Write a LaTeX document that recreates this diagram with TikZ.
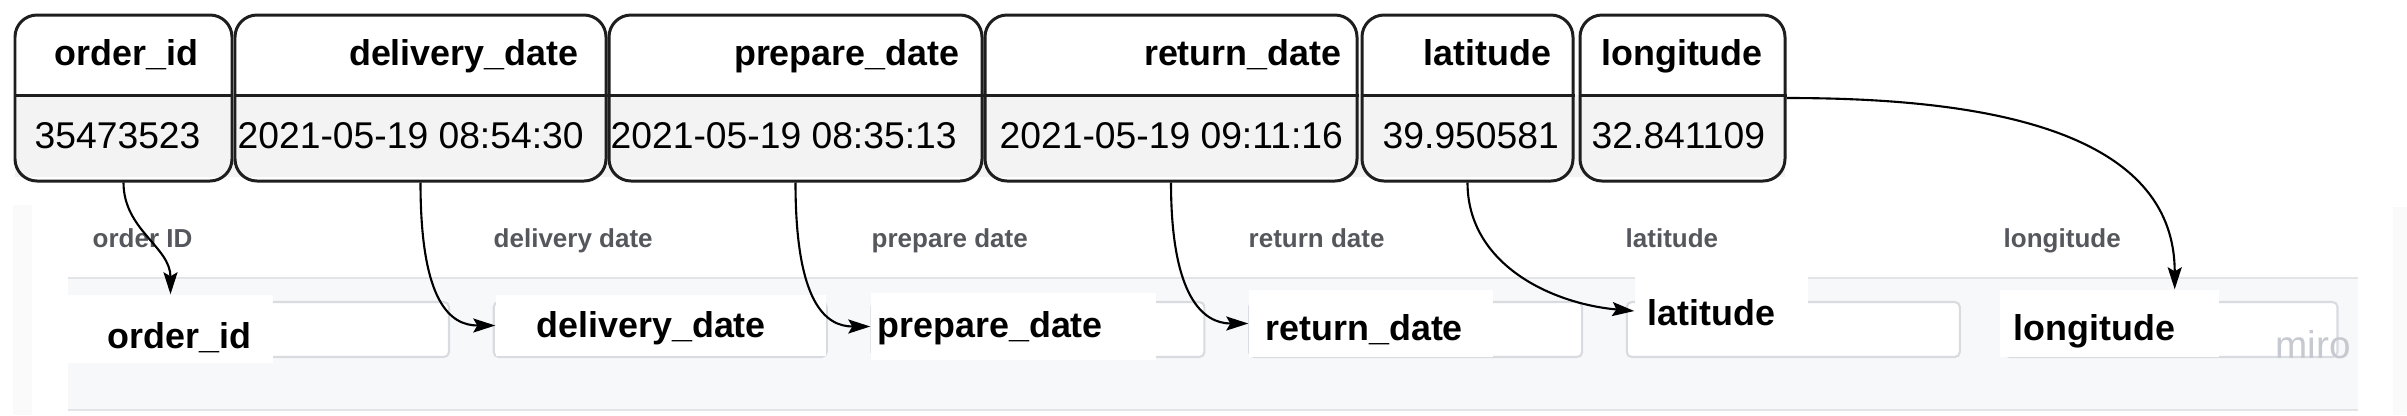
\documentclass[tikz,border=0pt]{standalone}
\usepackage{fontspec}
\setmainfont{Liberation Sans}
\usepackage{tikz}
\usetikzlibrary{arrows.meta,calc}
\usetikzlibrary{positioning,shapes}

\definecolor{valgray}{HTML}{F3F3F3}
\definecolor{boxline}{HTML}{1E1E1E}
\definecolor{panelbg}{HTML}{F7F8FA}
\definecolor{panelline}{HTML}{E2E4E8}
\definecolor{fieldline}{HTML}{D8DBE0}
\definecolor{labelgray}{HTML}{55575D}
\definecolor{miromark}{HTML}{C6C9CF}
\definecolor{stripgray}{HTML}{FAFAFB}

\tikzset{
    %Define style for the table columns
    colbox/.style={
        rectangle,
        rounded corners=0.22cm,
        draw=boxline, line width=0.85pt,
        minimum height=1.66cm,
        inner sep=0pt,
    },
    hdr/.style={
        inner sep=0pt,
        font=\fontsize{10.2}{12}\selectfont\bfseries,
    },
    val/.style={
        inner sep=0pt,
        font=\fontsize{10.6}{12}\selectfont,
    },
    colname/.style={
        inner sep=0pt,
        text=labelgray,
        font=\fontsize{7.4}{9}\selectfont\bfseries,
    },
    field/.style={
        rectangle,
        rounded corners=0.05cm,
        draw=fieldline, line width=0.6pt,
        fill=white,
        minimum width=3.33cm,
        minimum height=0.55cm,
    },
    whitebox/.style={
        rectangle,
        fill=white,
        inner sep=0pt,
    },
    fieldname/.style={
        inner sep=0pt,
        font=\fontsize{10.2}{12}\selectfont\bfseries,
    },
    conn/.style={
        ->,
        >={Stealth[length=2.2mm,width=1.4mm,inset=0.4mm]},
        line width=0.6pt,
    },
}

\begin{document}
\begin{tikzpicture}
    \useasboundingbox (0,0) rectangle (24.07,-4.15);

    % form panel in the background
    \fill[stripgray] (0.13,-2.05) rectangle (0.32,-4.15);
    \fill[stripgray] (23.93,-2.07) rectangle (24.07,-4.15);
    \fill[panelbg] (0.68,-2.78) rectangle (23.58,-4.10);
    \draw[panelline, line width=0.6pt] (0.68,-2.78) -- (23.58,-2.78);
    \draw[panelline, line width=0.6pt] (0.68,-4.10) -- (23.58,-4.10);

    % table
    \fill[valgray] (0.15,-0.95) rectangle (17.85,-1.77);
    \coordinate (div) at (0,-0.95);

    \node[colbox, minimum width=2.17cm] (c1) at (1.235,-0.98) {};
    \node[colbox, minimum width=3.71cm] (c2) at (4.205,-0.98) {};
    \node[colbox, minimum width=3.73cm] (c3) at (7.955,-0.98) {};
    \node[colbox, minimum width=3.72cm] (c4) at (11.71,-0.98) {};
    \node[colbox, minimum width=2.11cm] (c5) at (14.675,-0.98) {};
    \node[colbox, minimum width=2.05cm] (c6) at (16.825,-0.98) {};

    \draw[boxline, line width=0.85pt] (c1.west |- div) -- (c1.east |- div);
    \draw[boxline, line width=0.85pt] (c2.west |- div) -- (c2.east |- div);
    \draw[boxline, line width=0.85pt] (c3.west |- div) -- (c3.east |- div);
    \draw[boxline, line width=0.85pt] (c4.west |- div) -- (c4.east |- div);
    \draw[boxline, line width=0.85pt] (c5.west |- div) -- (c5.east |- div);
    \draw[boxline, line width=0.85pt] (c6.west |- div) -- (c6.east |- div);

    \node[hdr, anchor=base] (h1) at (1.265,-0.65) {order\_id};
    \node[hdr, anchor=base east] (h2) at (5.79,-0.65) {delivery\_date};
    \node[hdr, anchor=base east] (h3) at (9.60,-0.65) {prepare\_date};
    \node[hdr, anchor=base east] (h4) at (13.42,-0.65) {return\_date};
    \node[hdr, anchor=base east] (h5) at (15.52,-0.65) {latitude};
    \node[hdr, anchor=base] (h6) at (16.82,-0.65) {longitude};

    \node[val, anchor=base west] (v1) at (0.34,-1.48) {35473523};
    \node[val, anchor=base west] (v2) at (2.37,-1.48) {2021-05-19 08:54:30};
    \node[val, anchor=base west] (v3) at (6.10,-1.48) {2021-05-19 08:35:13};
    \node[val, anchor=base west] (v4) at (9.99,-1.48) {2021-05-19 09:11:16};
    \node[val, anchor=base west] (v5) at (13.82,-1.48) {39.950581};
    \node[val, anchor=base west] (v6) at (15.91,-1.48) {32.841109};

    % form labels
    \node[colname, anchor=base west] (l1) at (0.92,-2.47) {order ID};
    \node[colname, anchor=base west] (l2) at (4.93,-2.47) {delivery date};
    \node[colname, anchor=base west] (l3) at (8.71,-2.47) {prepare date};
    \node[colname, anchor=base west] (l4) at (12.48,-2.47) {return date};
    \node[colname, anchor=base west] (l5) at (16.25,-2.47) {latitude};
    \node[colname, anchor=base west] (l6) at (20.03,-2.47) {longitude};

    % form fields
    \node[field] (f1) at (2.825,-3.295) {};
    \node[field] (f2) at (6.602,-3.295) {};
    \node[field] (f3) at (10.379,-3.295) {};
    \node[field] (f4) at (14.156,-3.295) {};
    \node[field] (f5) at (17.933,-3.295) {};
    \node[field] (f6) at (21.71,-3.295) {};

    \node[whitebox, minimum width=2.05cm, minimum height=0.68cm] (wb1) at (1.705,-3.29) {};
    \node[whitebox, minimum width=3.30cm, minimum height=0.61cm] (wb2) at (6.61,-3.255) {};
    \node[whitebox, minimum width=2.85cm, minimum height=0.67cm] (wb3) at (10.135,-3.265) {};
    \node[whitebox, minimum width=2.44cm, minimum height=0.67cm] (wb4) at (13.71,-3.235) {};
    \node[whitebox, minimum width=1.73cm, minimum height=0.72cm] (wb5) at (17.215,-3.11) {};
    \node[whitebox, minimum width=2.19cm, minimum height=0.67cm] (wb6) at (21.095,-3.235) {};

    \node[fieldname, anchor=base west] (n1) at (1.07,-3.48) {order\_id};
    \node[fieldname, anchor=base west] (n2) at (5.36,-3.37) {delivery\_date};
    \node[fieldname, anchor=base west] (n3) at (8.77,-3.37) {prepare\_date};
    \node[fieldname, anchor=base west] (n4) at (12.65,-3.40) {return\_date};
    \node[fieldname, anchor=base west] (n5) at (16.47,-3.25) {latitude};
    \node[fieldname, anchor=base west] (n6) at (20.13,-3.40) {longitude};

    \node[text=miromark, inner sep=0pt, font=\fontsize{11}{12}\selectfont, anchor=base west] (wm) at (22.75,-3.58) {miro};

    % mapping arrows
    \draw[conn] (c1.south) to[out=-90,in=90] (wb1.north);
    \draw[conn] (c2.south) to[out=-90,in=180,out distance=1.2cm,in distance=0.45cm] (wb2.west);
    \draw[conn] (c3.south) to[out=-90,in=180,out distance=1.2cm,in distance=0.45cm] (wb3.west);
    \draw[conn] (c4.south) to[out=-90,in=180,out distance=1.15cm,in distance=0.45cm] (wb4.west);
    \draw[conn] (c5.south) to[out=-90,in=175] (wb5.west);
    \draw[conn] (c6.east) to[out=0,in=90] ([xshift=-0.45cm]wb6.north east);
\end{tikzpicture}
\end{document}
